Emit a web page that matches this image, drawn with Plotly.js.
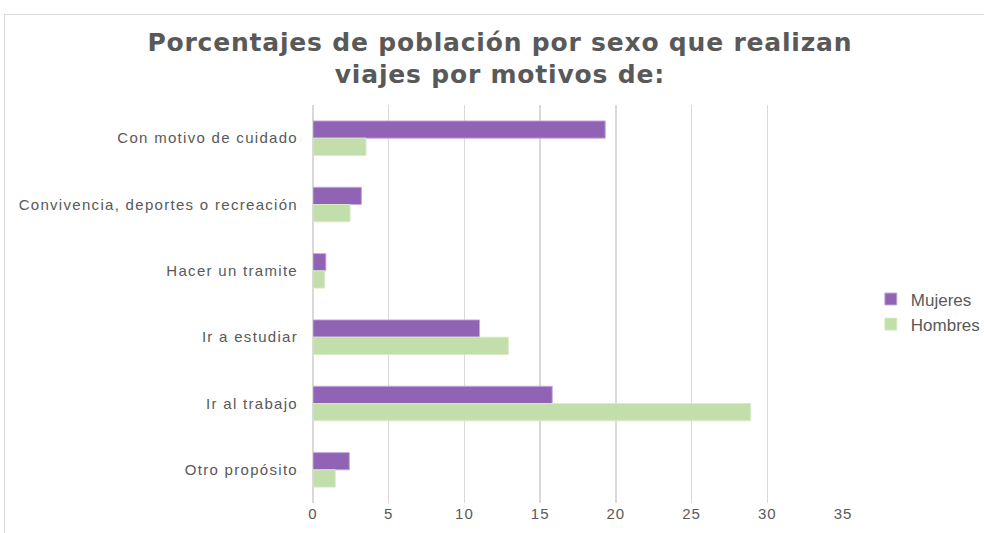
<!DOCTYPE html>
<html>
<head>
<meta charset="utf-8">
<script src="https://cdn.plot.ly/plotly-3.0.1.min.js"></script>
<style>
html,body{margin:0;padding:0;background:#fff;}
#frame{position:absolute;left:4px;top:14px;width:990px;height:530px;border-left:1px solid #d9d9d9;border-top:1px solid #d9d9d9;}
#chart{position:absolute;left:0;top:0;width:984px;height:533px;}
#chart .gtitle{letter-spacing:0.8px;}
#chart .ytick text{letter-spacing:1.3px;}
#chart .xtick text{letter-spacing:1px;}
</style>
</head>
<body>
<div id="frame"></div>
<div id="chart"></div>
<script>
const categories = ["Con motivo de cuidado","Convivencia, deportes o recreación","Hacer un tramite","Ir a estudiar","Ir al trabajo","Otro propósito"];
const mujeres = [19.3, 3.2, 0.85, 11.0, 15.8, 2.4];
const hombres = [3.5, 2.45, 0.77, 12.9, 28.9, 1.47];
const xTicks = [0,5,10,15,20,25,30,35];

const traces = [
  {type:'bar', orientation:'h', name:'Mujeres', legendgroup:'m', y:categories, x:mujeres,
   marker:{color:'rgb(145,99,181)', line:{color:'rgba(200,170,225,0.9)', width:1}}},
  {type:'bar', orientation:'h', name:'Hombres', legendgroup:'h', y:categories, x:hombres,
   marker:{color:'rgb(193,222,171)', line:{color:'rgba(215,235,200,0.9)', width:1}}}
];

const layout = {
  width:984, height:533,
  paper_bgcolor:'rgba(0,0,0,0)', plot_bgcolor:'rgba(0,0,0,0)',
  margin:{l:313, r:141, t:105, b:30, autoexpand:false},
  barmode:'group', bargap:0.48, bargroupgap:0,
  font:{family:'Liberation Sans, Arial, sans-serif', color:'#595959'},
  title:{text:'Porcentajes de población por sexo que realizan<br>viajes por motivos de:',
         font:{size:25, color:'#595959', family:'DejaVu Sans, sans-serif', weight:'bold'},
         x:0.508, xanchor:'center', yref:'container', y:0.905, yanchor:'top'},
  xaxis:{range:[0,35], tickvals:xTicks, ticktext:xTicks.map(String), showgrid:true,
         gridcolor:'#d9d9d9', gridwidth:1.5, zeroline:true, zerolinecolor:'#d9d9d9', zerolinewidth:1.5,
         showline:false, tickfont:{size:15, color:'#595959'}, fixedrange:true},
  yaxis:{autorange:'reversed', type:'category', showgrid:false, showline:false, zeroline:false,
         ticklabelstandoff:14, tickfont:{size:15, color:'#595959'}},
  legend:{xref:'container', x:0.885, xanchor:'left', y:0.48, yanchor:'middle', traceorder:'normal',
          font:{size:17, color:'#595959'}, itemwidth:30, tracegroupgap:4},
  showlegend:true
};

Plotly.newPlot('chart', traces, layout, {displayModeBar:false, staticPlot:true});
</script>
</body>
</html>
